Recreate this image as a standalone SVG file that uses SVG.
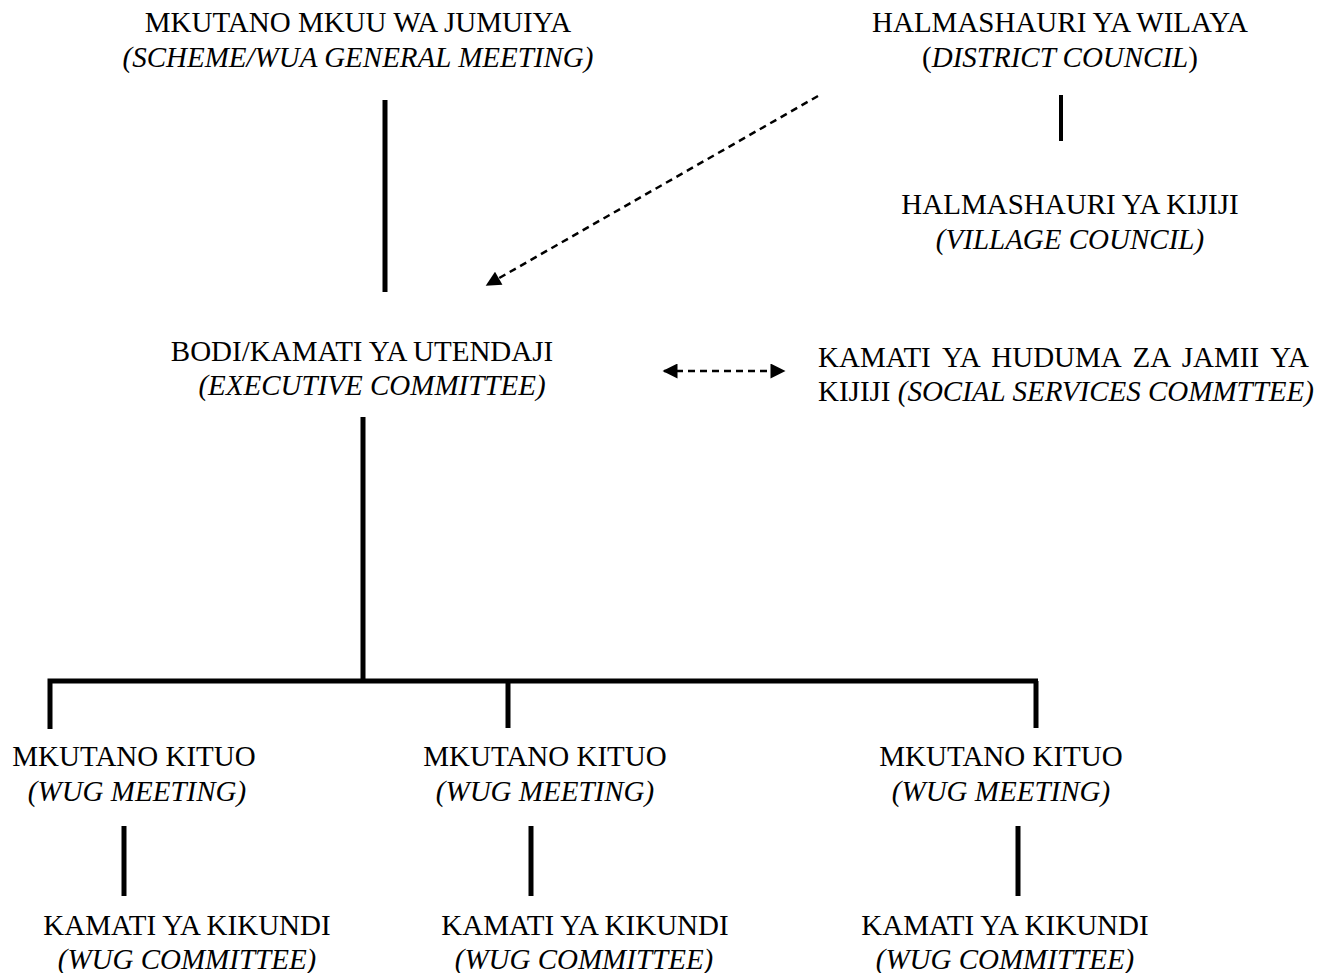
<svg xmlns="http://www.w3.org/2000/svg" width="1320" height="973" viewBox="0 0 1320 973">
<style>
text{font-family:"Liberation Serif","Times New Roman",serif;font-size:29px;fill:#000;text-anchor:middle}
.i{font-style:italic}
.s{text-anchor:start}
.solid{stroke:#000;stroke-width:5;fill:none;stroke-linecap:butt}
.thin{stroke-width:4}
.dash{stroke:#000;stroke-width:2.5;stroke-dasharray:7 5;fill:none}
</style>
<defs>
<marker id="ah" viewBox="0 0 10 10" refX="9" refY="5" markerWidth="18" markerHeight="15" markerUnits="userSpaceOnUse" orient="auto-start-reverse">
<path d="M0,0 L10,5 L0,10 Z" fill="#000"/>
</marker>
</defs>
<rect width="1320" height="973" fill="#fff"/>
<g id="connectors">
<line class="solid" x1="385" y1="100" x2="385" y2="292"/>
<line class="solid thin" x1="1061" y1="95" x2="1061" y2="141"/>
<line class="dash" x1="818" y1="96" x2="487" y2="285" marker-end="url(#ah)"/>
<line class="dash" x1="664" y1="371" x2="784" y2="371" marker-start="url(#ah)" marker-end="url(#ah)"/>
<line class="solid" x1="363" y1="417" x2="363" y2="683"/>
<polyline class="solid" points="50,729 50,681 1038,681"/>
<line class="solid" x1="508" y1="681" x2="508" y2="728"/>
<line class="solid" x1="1036" y1="681" x2="1036" y2="728"/>
<line class="solid" x1="124" y1="826" x2="124" y2="896"/>
<line class="solid" x1="531" y1="826" x2="531" y2="896"/>
<line class="solid" x1="1018" y1="826" x2="1018" y2="896"/>
</g>
<g id="general-meeting">
<text x="358" y="32">MKUTANO MKUU WA JUMUIYA</text>
<text class="i" x="358" y="67">(SCHEME/WUA GENERAL MEETING)</text>
</g>
<g id="district-council">
<text x="1060" y="32">HALMASHAURI YA WILAYA</text>
<text x="1060" y="67">(<tspan class="i">DISTRICT COUNCIL</tspan>)</text>
</g>
<g id="village-council">
<text x="1070" y="214">HALMASHAURI YA KIJIJI</text>
<text class="i" x="1070" y="249">(VILLAGE COUNCIL)</text>
</g>
<g id="executive-committee">
<text x="362" y="361">BODI/KAMATI YA UTENDAJI</text>
<text class="i" x="372" y="395">(EXECUTIVE COMMITTEE)</text>
</g>
<g id="social-services">
<text class="s" x="818" y="367" word-spacing="5">KAMATI YA HUDUMA ZA JAMII YA</text>
<text class="s" x="818" y="401">KIJIJI <tspan class="i">(SOCIAL SERVICES COMMTTEE)</tspan></text>
</g>
<g id="wug-meeting-1">
<text x="134" y="766">MKUTANO KITUO</text>
<text class="i" x="137" y="801">(WUG MEETING)</text>
</g>
<g id="wug-meeting-2">
<text x="545" y="766">MKUTANO KITUO</text>
<text class="i" x="545" y="801">(WUG MEETING)</text>
</g>
<g id="wug-meeting-3">
<text x="1001" y="766">MKUTANO KITUO</text>
<text class="i" x="1001" y="801">(WUG MEETING)</text>
</g>
<g id="wug-committee-1">
<text x="187" y="935">KAMATI YA KIKUNDI</text>
<text class="i" x="187" y="969">(WUG COMMITTEE)</text>
</g>
<g id="wug-committee-2">
<text x="585" y="935">KAMATI YA KIKUNDI</text>
<text class="i" x="584" y="969">(WUG COMMITTEE)</text>
</g>
<g id="wug-committee-3">
<text x="1005" y="935">KAMATI YA KIKUNDI</text>
<text class="i" x="1005" y="969">(WUG COMMITTEE)</text>
</g>
</svg>
